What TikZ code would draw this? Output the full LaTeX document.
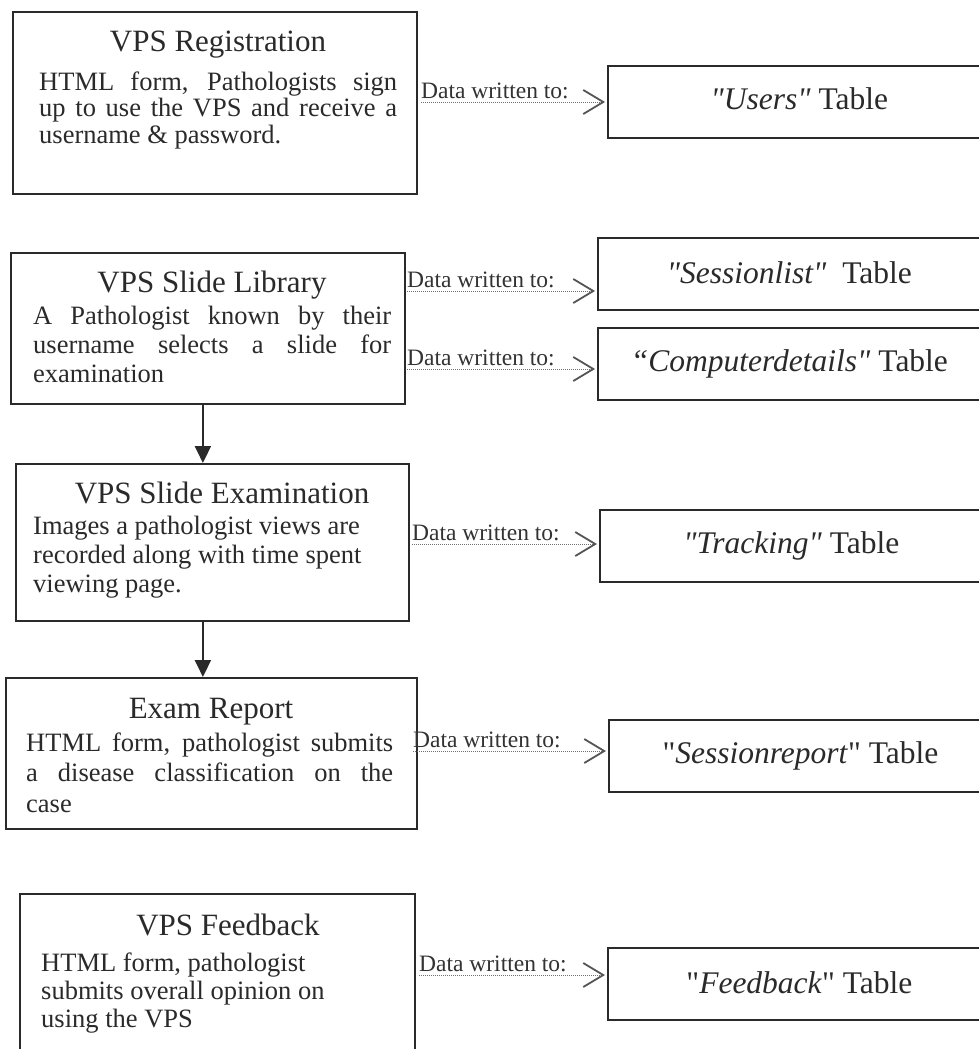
\documentclass[tikz,border=0pt]{standalone}
\usepackage{fontspec}
\setmainfont{Liberation Serif}[Ligatures=TeXOff]
\usetikzlibrary{arrows.meta}
\definecolor{ink}{HTML}{2A2A2A}
\definecolor{lbl}{HTML}{333333}
\definecolor{dots}{HTML}{707070}
\definecolor{chev}{HTML}{555555}
\newcommand{\jl}[2]{\makebox[#1][s]{#2}}
\tikzset{
  procbox/.style={draw=ink, line width=1.8pt, anchor=north west, inner sep=0pt},
  tablebox/.style={draw=ink, line width=1.8pt, anchor=north west, minimum height=72pt,
    minimum width=383pt, inner sep=0pt, font=\fontsize{31.5}{34}\selectfont, text=ink},
  ttl/.style={anchor=base, inner sep=0pt, font=\fontsize{31}{34}\selectfont, text=ink},
  body/.style={anchor=base west, inner sep=0pt, text=ink},
  lab/.style={anchor=base west, inner sep=0pt, font=\fontsize{23.5}{25}\selectfont, text=lbl},
  written/.style={densely dotted, dots, line width=1pt, shorten >=2pt,
    -{Straight Barb[length=20pt,width=24pt,line width=1.8pt,color=chev]}},
  flow/.style={ink, line width=2pt, -{Triangle[length=17pt,width=16pt]}},
}
\begin{document}
\begin{tikzpicture}[x=1pt,y=-1pt]
\useasboundingbox (0,0) rectangle (979,1049);
\fill[white] (0,0) rectangle (979,1049);
\clip (0,0) rectangle (979,1049);

% ---------- process boxes ----------
\node[procbox, minimum width=404pt, minimum height=182pt] (reg) at (12,11) {};
\node[ttl] (regT) at (218,52) {VPS Registration};
\node[body, font=\fontsize{26.5}{26.5}\selectfont] (regB) at (39,90)
  {\begin{tabular}[t]{@{}l@{}}\jl{358pt}{HTML form, Pathologists sign}\\
   \jl{358pt}{up to use the VPS and receive a}\\ username \& password.\end{tabular}};

\node[procbox, minimum width=394pt, minimum height=151pt] (lib) at (10,252) {};
\node[ttl] (libT) at (212,292) {VPS Slide Library};
\node[body, font=\fontsize{26.5}{29}\selectfont] (libB) at (33,324)
  {\begin{tabular}[t]{@{}l@{}}\jl{358pt}{A Pathologist known by their}\\
   \jl{358pt}{username selects a slide for}\\ examination\end{tabular}};

\node[procbox, minimum width=393pt, minimum height=157pt] (exam) at (15,463) {};
\node[ttl] (examT) at (222,503) {VPS Slide Examination};
\node[body, font=\fontsize{26.5}{29}\selectfont] (examB) at (33,534)
  {\begin{tabular}[t]{@{}l@{}}Images a pathologist views are\\
   recorded along with time spent\\ viewing page.\end{tabular}};

\node[procbox, minimum width=411pt, minimum height=151pt] (rep) at (5,677) {};
\node[ttl] (repT) at (211,718) {Exam Report};
\node[body, font=\fontsize{26.5}{30.5}\selectfont] (repB) at (26,751)
  {\begin{tabular}[t]{@{}l@{}}\jl{367pt}{HTML form, pathologist submits}\\
   \jl{367pt}{a disease classification on the}\\ case\end{tabular}};

\node[procbox, minimum width=395pt, minimum height=175pt] (fb) at (19,893) {};
\node[ttl] (fbT) at (228,935) {VPS Feedback};
\node[body, font=\fontsize{26.5}{28}\selectfont] (fbB) at (41,971)
  {\begin{tabular}[t]{@{}l@{}}HTML form, pathologist\\
   submits overall opinion on\\ using the VPS\end{tabular}};

% ---------- table boxes ----------
\node[tablebox] (users) at (607,65) {\raisebox{7pt}{\textit{"Users"} Table}};
\node[tablebox] (slist) at (597,237) {\raisebox{2pt}{\textit{"Sessionlist"}\ \ Table}};
\node[tablebox] (comp) at (597,327) {\raisebox{4pt}{\textit{“Computerdetails"} Table}};
\node[tablebox] (track) at (599,509) {\raisebox{4pt}{\textit{"Tracking"} Table}};
\node[tablebox] (srep) at (608,719) {\raisebox{4pt}{"\textit{Sessionreport}" Table}};
\node[tablebox] (feed) at (607,947) {\raisebox{3pt}{"\textit{Feedback}" Table}};

% ---------- labels ----------
\node[lab] (l1) at (421,98) {Data written to:};
\node[lab] (l2) at (407,287) {Data written to:};
\node[lab] (l3) at (407,365) {Data written to:};
\node[lab] (l4) at (412,540) {Data written to:};
\node[lab] (l5) at (413,747) {Data written to:};
\node[lab] (l6) at (419,971) {Data written to:};

\draw[written] ([yshift=-4pt]l1.base west) -- ([yshift=-4pt]users.west |- l1.base);
\draw[written] ([yshift=-4pt]l2.base west) -- ([yshift=-4pt]slist.west |- l2.base);
\draw[written] ([yshift=-4pt]l3.base west) -- ([yshift=-4pt]comp.west |- l3.base);
\draw[written] ([yshift=-4pt]l4.base west) -- ([yshift=-4pt]track.west |- l4.base);
\draw[written] ([yshift=-4pt]l5.base west) -- ([yshift=-4pt]srep.west |- l5.base);
\draw[written] ([yshift=-4pt]l6.base west) -- ([yshift=-4pt]feed.west |- l6.base);

% ---------- flow arrows ----------
\draw[flow] ([xshift=-5pt]lib.south) -- ([xshift=-5pt]lib.south |- exam.north);
\draw[flow] ([xshift=-9.5pt]exam.south) -- ([xshift=-9.5pt]exam.south |- rep.north);
\end{tikzpicture}
\end{document}
